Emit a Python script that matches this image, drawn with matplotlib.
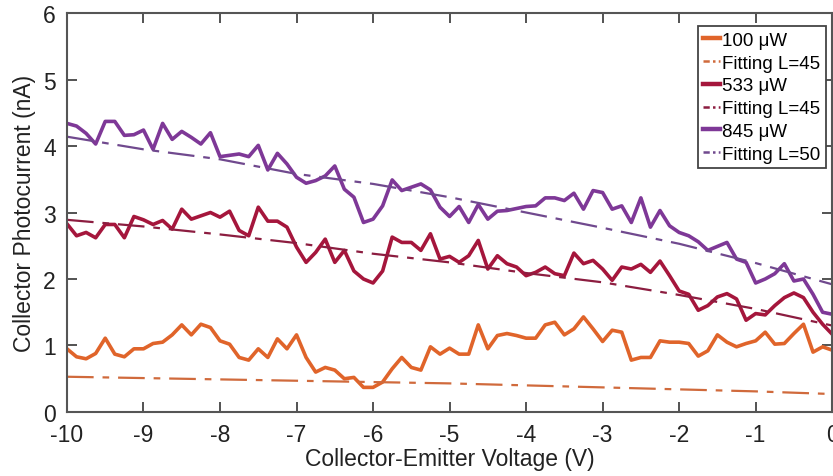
import numpy as np
import matplotlib
matplotlib.use("Agg")
from matplotlib import pyplot as plt
from matplotlib.lines import Line2D

# bias sweep, 0.125 V steps
vce = np.linspace(-10, 0, 81)

i_100 = [0.95, 0.83, 0.80, 0.88, 1.11, 0.87, 0.83, 0.95, 0.95, 1.03,
         1.05, 1.16, 1.31, 1.16, 1.32, 1.27, 1.07, 1.02, 0.82, 0.78,
         0.95, 0.82, 1.10, 0.95, 1.16, 0.82, 0.60, 0.67, 0.63, 0.50,
         0.52, 0.37, 0.37, 0.45, 0.65, 0.82, 0.67, 0.63, 0.98, 0.87,
         0.96, 0.87, 0.87, 1.31, 0.95, 1.15, 1.18, 1.15, 1.11, 1.11,
         1.31, 1.35, 1.16, 1.25, 1.43, 1.25, 1.06, 1.23, 1.20, 0.78,
         0.82, 0.82, 1.07, 1.05, 1.05, 1.03, 0.84, 0.92, 1.16, 1.05,
         0.98, 1.03, 1.07, 1.20, 1.02, 1.03, 1.18, 1.32, 0.90, 0.98,
         0.93]

i_533 = [2.83, 2.65, 2.70, 2.62, 2.82, 2.82, 2.62, 2.94, 2.89, 2.82,
         2.88, 2.75, 3.05, 2.90, 2.95, 3.00, 2.93, 3.02, 2.73, 2.65,
         3.08, 2.87, 2.87, 2.78, 2.48, 2.25, 2.40, 2.60, 2.25, 2.43,
         2.12, 2.00, 1.94, 2.12, 2.63, 2.55, 2.55, 2.43, 2.68, 2.30,
         2.34, 2.25, 2.35, 2.58, 2.15, 2.35, 2.23, 2.18, 2.05, 2.10,
         2.18, 2.08, 2.05, 2.39, 2.23, 2.28, 2.15, 1.98, 2.18, 2.15,
         2.22, 2.10, 2.27, 2.05, 1.82, 1.77, 1.53, 1.60, 1.73, 1.78,
         1.70, 1.38, 1.48, 1.46, 1.60, 1.72, 1.79, 1.72, 1.50, 1.32,
         1.17]

i_845 = [4.34, 4.30, 4.19, 4.03, 4.37, 4.37, 4.16, 4.17, 4.24, 3.95,
         4.34, 4.10, 4.22, 4.13, 4.03, 4.20, 3.84, 3.86, 3.88, 3.84,
         4.01, 3.64, 3.89, 3.73, 3.53, 3.44, 3.48, 3.55, 3.70, 3.35,
         3.23, 2.85, 2.90, 3.10, 3.49, 3.33, 3.38, 3.43, 3.34, 3.08,
         2.94, 3.09, 2.85, 3.12, 2.90, 3.02, 3.03, 3.06, 3.09, 3.10,
         3.22, 3.22, 3.18, 3.29, 3.05, 3.33, 3.30, 3.05, 3.10, 2.85,
         3.22, 2.78, 3.03, 2.80, 2.70, 2.65, 2.56, 2.43, 2.49, 2.55,
         2.30, 2.25, 1.94, 2.00, 2.08, 2.23, 1.97, 2.00, 1.77, 1.50,
         1.47]

# fitted curves
v_fit = [-10, -9, -8, -7, -6, -5, -4, -3, -2, -1, 0]
fit_100 = [0.53, 0.51, 0.49, 0.47, 0.45, 0.43, 0.40, 0.37, 0.34, 0.31, 0.27]
fit_533 = [2.89, 2.79, 2.67, 2.54, 2.38, 2.25, 2.09, 1.95, 1.76, 1.55, 1.30]
fit_845 = [4.14, 3.95, 3.80, 3.58, 3.43, 3.23, 3.00, 2.77, 2.53, 2.24, 1.92]

labels = ["100 μW", "Fitting L=45", "533 μW", "Fitting L=45", "845 μW", "Fitting L=50"]

c_100, f_100 = "#e0642a", "#d06a3c"
c_533, f_533 = "#a5163c", "#8c1d40"
c_845, f_845 = "#7e3897", "#70498e"

plt.rcParams["font.family"] = ["Liberation Sans", "DejaVu Sans"]
plt.rcParams["axes.unicode_minus"] = False
dashdot = (0, (12, 4, 3, 4))
short_dashdot = (0, (2.5, 1.3, 1.0, 1.3))

fig = plt.figure(figsize=(8.33, 4.77), dpi=100)
ax = fig.add_axes([0.0804, 0.1342, 0.9186, 0.8364])

ax.plot(vce, i_100, color=c_100, lw=2.6)
ax.plot(v_fit, fit_100, color=f_100, lw=1.6, linestyle=dashdot)
ax.plot(vce, i_533, color=c_533, lw=2.6)
ax.plot(v_fit, fit_533, color=f_533, lw=1.6, linestyle=dashdot)
ax.plot(vce, i_845, color=c_845, lw=2.6)
ax.plot(v_fit, fit_845, color=f_845, lw=1.6, linestyle=dashdot)

ax.set_xlim(-10, 0)
ax.set_ylim(0, 6)
ax.set_xticks(np.arange(-10, 1, 1))
ax.set_yticks(np.arange(0, 7, 1))
ax.tick_params(direction="in", length=7, width=1.3, top=True, right=True,
               labelsize=16.5, colors="#444444", labelcolor="#222222", pad=8)
for s in ax.spines.values():
    s.set_color("#555555")
    s.set_linewidth(1.5)

ax.set_xlabel("Collector-Emitter Voltage (V)", fontsize=16.5, color="#222222", labelpad=1)
ax.set_ylabel("Collector Photocurrent (nA)", fontsize=16.5, color="#222222", labelpad=5)

# legend handles: solid for data, short dash-dot for fits
handles = []
for col, fcol in [(c_100, f_100), (c_533, f_533), (c_845, f_845)]:
    handles.append(Line2D([], [], color=col, lw=3.2))
    handles.append(Line2D([], [], color=fcol, lw=1.8, linestyle=short_dashdot))

leg = ax.legend(handles, labels, loc="upper right", bbox_to_anchor=(0.992, 0.967),
                borderaxespad=0, fontsize=13.5, handlelength=0.9,
                handletextpad=0.1, labelspacing=0.3, borderpad=0.3,
                fancybox=False, framealpha=1, edgecolor="#444444")
leg.get_frame().set_linewidth(1.3)

fig.savefig("out.png", dpi=100)
